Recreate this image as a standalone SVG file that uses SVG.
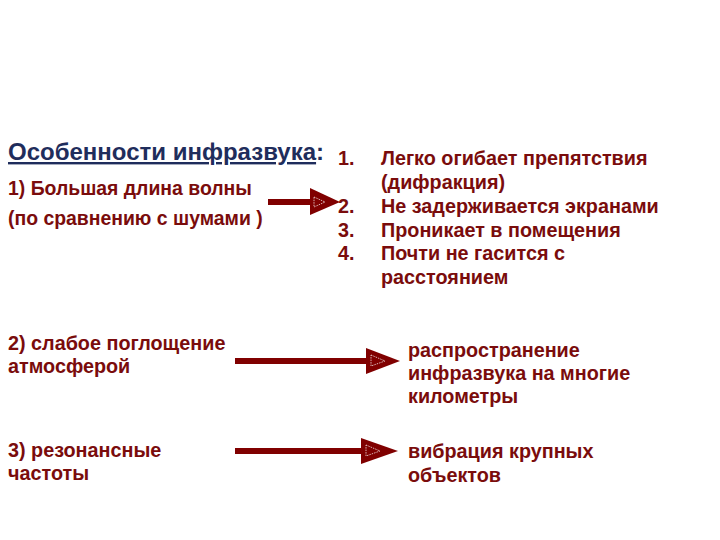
<svg xmlns="http://www.w3.org/2000/svg" width="720" height="540" viewBox="0 0 720 540">
<style>
text{font-family:"Liberation Sans",Arial,sans-serif;font-weight:bold;fill:#7a0c0c;}
.h{fill:#1f2d5c;font-size:24px;}
.t{font-size:19.4px;}
.l{font-size:19.8px;}
.shaft{stroke:#800000;stroke-width:6;fill:none;}
.head{fill:#800000;}
.inner{fill:none;stroke:#ffffff;stroke-width:0.7;stroke-dasharray:1.5 1;}
</style>
<rect width="720" height="540" fill="#ffffff"/>
<g id="heading">
<text class="h" x="8" y="160"><tspan text-decoration="underline">Особенности инфразвука</tspan>:</text>
</g>
<g id="cause1">
<text class="t" x="8" y="195">1) Большая длина волны</text>
<text class="t" x="8" y="225">(по сравнению с шумами )</text>
</g>
<g id="effects1">
<text class="l" x="338" y="165">1.</text><text class="l" x="381" y="165">Легко огибает препятствия</text>
<text class="l" x="381" y="189">(дифракция)</text>
<text class="l" x="338" y="213">2.</text><text class="l" x="381" y="213">Не задерживается экранами</text>
<text class="l" x="338" y="237">3.</text><text class="l" x="381" y="237">Проникает в помещения</text>
<text class="l" x="338" y="260">4.</text><text class="l" x="381" y="260">Почти не гасится с</text>
<text class="l" x="381" y="284">расстоянием</text>
</g>
<g id="cause2">
<text class="l" x="8" y="350">2) слабое поглощение</text>
<text class="l" x="8" y="373">атмосферой</text>
</g>
<g id="effect2">
<text class="l" x="408" y="357">распространение</text>
<text class="l" x="408" y="380">инфразвука на многие</text>
<text class="l" x="408" y="403">километры</text>
</g>
<g id="cause3">
<text class="l" x="8" y="457">3) резонансные</text>
<text class="l" x="8" y="480">частоты</text>
</g>
<g id="effect3">
<text class="l" x="408" y="458">вибрация крупных</text>
<text class="l" x="408" y="482">объектов</text>
</g>
<g id="connectors">
<line class="shaft" x1="268" y1="202" x2="311" y2="202" stroke-width="5"/>
<polygon class="head" points="310,188 340,202 310,215"/>
<polygon class="inner" points="314,197 325,202 314,207"/>
<line class="shaft" x1="235" y1="361" x2="368" y2="361"/>
<polygon class="head" points="366,348 400,361 366,374"/>
<polygon class="inner" points="371,355 385,361 371,366"/>
<line class="shaft" x1="235" y1="451" x2="363" y2="451"/>
<polygon class="head" points="361,438 398,451 361,464"/>
<polygon class="inner" points="366,445 380,451 366,456"/>
</g>
</svg>
